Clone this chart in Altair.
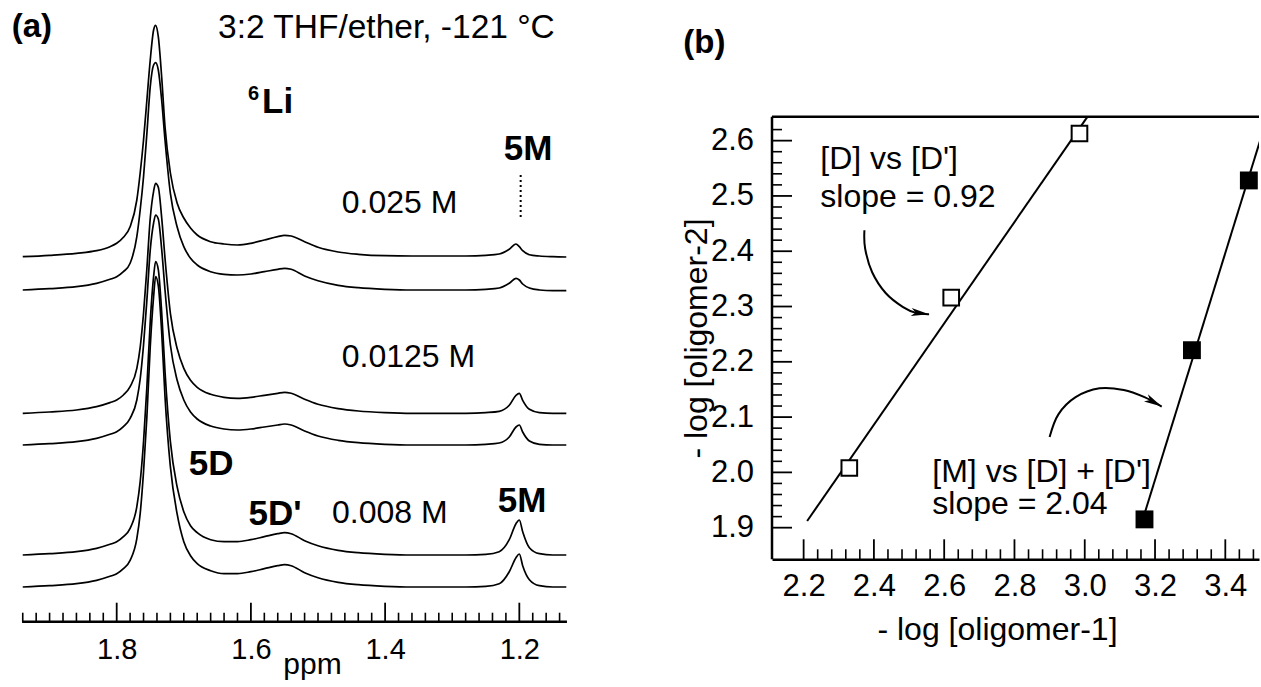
import altair as alt
import pandas as pd

FONT = "Liberation Sans"

# ---------------- panel (a): 6Li NMR spectra ----------------
ppm = [1.94, 1.90, 1.86, 1.83, 1.81, 1.80, 1.79, 1.78, 1.77, 1.765,
       1.76, 1.755, 1.75, 1.745, 1.742, 1.738, 1.733, 1.728, 1.72, 1.71,
       1.70, 1.69, 1.68, 1.66, 1.64, 1.62, 1.60, 1.58, 1.56, 1.55,
       1.54, 1.52, 1.50, 1.47, 1.44, 1.40, 1.36, 1.32, 1.28, 1.25,
       1.23, 1.215, 1.205, 1.20, 1.195, 1.185, 1.17, 1.15, 1.13]

trace_025_1 = [365.0, 366.4, 368.4, 371.0, 375.0, 378.4, 384.4, 395.0, 421.7, 448.7,
               481.7, 521.7, 561.7, 591.7, 596.4, 585.0, 545.0, 495.0, 448.7, 418.7,
               403.7, 393.7, 386.7, 380.0, 377.7, 376.7, 378.4, 381.7, 385.0, 386.4,
               385.7, 380.0, 374.4, 369.7, 367.4, 366.0, 365.7, 365.7, 365.7, 366.4,
               367.7, 372.4, 377.7, 375.0, 371.0, 367.0, 365.7, 365.0, 364.7]
trace_025_2 = [331.7, 333.0, 335.0, 338.4, 342.4, 345.0, 350.0, 358.4, 385.0, 411.7,
               445.0, 488.4, 535.0, 556.7, 559.0, 551.7, 521.7, 481.7, 428.4, 395.0,
               375.0, 363.4, 356.7, 350.0, 347.4, 346.7, 347.7, 350.0, 352.4, 353.4,
               352.4, 345.7, 341.0, 336.4, 334.0, 332.4, 331.7, 331.7, 331.7, 332.4,
               333.7, 338.4, 343.4, 341.7, 337.7, 333.7, 331.7, 331.0, 331.0]
trace_0125_1 = [208.4, 209.7, 211.7, 215.1, 219.1, 221.7, 226.7, 235.1, 253.4, 274.4,
                308.4, 353.4, 403.4, 430.4, 438.4, 434.4, 404.4, 363.4, 308.4, 273.4,
                253.4, 241.4, 234.4, 227.4, 224.4, 223.4, 224.4, 226.4, 228.4, 229.4,
                228.4, 222.4, 217.4, 213.1, 210.7, 209.1, 208.4, 208.4, 208.4, 209.1,
                210.4, 216.4, 226.4, 228.4, 221.4, 212.4, 209.1, 208.4, 208.4]
trace_0125_2 = [176.7, 178.0, 180.0, 183.4, 187.4, 190.0, 195.0, 203.4, 221.7, 242.7,
                276.7, 321.7, 371.7, 398.7, 406.7, 402.7, 372.7, 331.7, 276.7, 241.7,
                221.7, 209.7, 202.7, 195.7, 192.7, 191.7, 192.7, 194.7, 196.7, 197.7,
                196.7, 190.7, 185.7, 181.4, 179.0, 177.4, 176.7, 176.7, 176.7, 177.4,
                178.7, 184.7, 194.7, 196.7, 189.7, 180.7, 177.4, 176.7, 176.7]
trace_008_1 = [66.7, 68.0, 70.0, 73.4, 77.4, 80.0, 85.0, 93.4, 115.0, 140.0,
               180.0, 235.0, 300.0, 345.0, 360.0, 352.0, 310.0, 250.0, 180.0, 135.0,
               110.0, 96.0, 89.0, 82.0, 80.0, 80.0, 82.0, 85.0, 88.0, 89.0,
               88.0, 81.0, 76.0, 71.4, 69.0, 67.4, 66.7, 66.7, 66.7, 67.4,
               70.0, 82.0, 98.0, 101.7, 90.0, 74.0, 68.0, 66.7, 66.7]
trace_008_2 = [34.7, 36.0, 38.0, 41.4, 45.4, 48.0, 53.0, 61.4, 83.0, 108.0,
               150.0, 205.0, 275.0, 325.0, 345.0, 336.0, 290.0, 225.0, 155.0, 108.0,
               80.0, 66.0, 58.0, 51.0, 48.0, 48.0, 50.0, 53.0, 56.0, 57.0,
               56.0, 49.0, 44.0, 39.4, 37.0, 35.4, 34.7, 34.7, 34.7, 35.4,
               38.0, 50.0, 64.0, 67.7, 56.0, 42.0, 36.0, 34.7, 34.7]

trace_names = ["0.025 M a", "0.025 M b", "0.0125 M a", "0.0125 M b", "0.008 M a", "0.008 M b"]
trace_values = [trace_025_1, trace_025_2, trace_0125_1, trace_0125_2, trace_008_1, trace_008_2]

a_major_ticks = [1.8, 1.6, 1.4, 1.2]
a_minor_ticks = [round(1.94 - 0.02 * i, 2) for i in range(41)]
a_minor_ticks = [t for t in a_minor_ticks if t not in a_major_ticks]

# ---------------- panel (b): log-log plot ----------------
d_x = [2.330, 2.620, 2.985]
d_y = [2.008, 2.316, 2.613]
m_x = [3.170, 3.305, 3.467]
m_y = [1.915, 2.221, 2.528]
fit_d_x = [2.210, 3.008]
fit_d_y = [1.912, 2.6434]
fit_m_x = [3.170, 3.520]
fit_m_y = [1.925, 2.643]

b_x_major = [2.2, 2.4, 2.6, 2.8, 3.0, 3.2, 3.4]
b_x_minor = [round(2.2 + 0.04 * i, 2) for i in range(33)]
b_x_minor = [t for t in b_x_minor if t not in b_x_major]
b_y_major = [1.9, 2.0, 2.1, 2.2, 2.3, 2.4, 2.5, 2.6]
b_y_minor = [round(1.9 + 0.02 * i, 2) for i in range(37)]
b_y_minor = [t for t in b_y_minor if t not in b_y_major]

arrow1_x = [2.373, 2.375, 2.395, 2.434, 2.483, 2.522, 2.557]
arrow1_y = [2.438, 2.405, 2.362, 2.324, 2.299, 2.288, 2.286]
arrow2_x = [2.900, 2.925, 2.974, 3.042, 3.111, 3.170, 3.219]
arrow2_y = [2.064, 2.105, 2.136, 2.152, 2.149, 2.136, 2.119]

# ---------------- tables ----------------
spec_df = pd.DataFrame(
    [{"trace": n, "ppm": p, "intensity": v}
     for n, vals in zip(trace_names, trace_values)
     for p, v in zip(ppm, vals)]
)

A_W, A_H = 566.7, 621.7
B_W, B_H = 487.0, 559.3
A_XDOM = [1.1294, 1.9739]
A_YDOM = [0, 621.7]
B_XDOM = [2.110, 2.110 + B_W / 351.4]
B_YDOM = [1.8428, 1.8428 + B_H / 552.9]

axis_a = alt.Axis(values=a_major_ticks, format=".1f", ticks=False, tickSize=0, domain=False,
                  grid=False, labelFontSize=29, labelPadding=36.6, labelBaseline="alphabetic",
                  labelFlush=False, labelOverlap=False, labelFont=FONT, labelColor="black",
                  title="ppm", titleFontSize=30, titleFontWeight="normal", titleX=312, titleY=51.5,
                  titleBaseline="alphabetic", titleAlign="center", titleFont=FONT,
                  titleColor="black")


def ax(field="ppm"):
    return alt.X(f"{field}:Q", scale=alt.Scale(domain=A_XDOM, reverse=True, nice=False, zero=False),
                 axis=axis_a)


def ay(field="intensity"):
    return alt.Y(f"{field}:Q", scale=alt.Scale(domain=A_YDOM, nice=False, zero=False), axis=None)


spectra = alt.Chart(spec_df).mark_line(color="black", strokeWidth=1.7, interpolate="monotone").encode(
    x=ax(), y=ay(), detail="trace:N")

a_axis_line = alt.Chart(pd.DataFrame({"ppm": [1.941], "ppm2": [1.129], "intensity": [0.0]})).mark_rule(
    color="black", strokeWidth=2.5).encode(x=ax(), x2="ppm2:Q", y=ay())
a_major = alt.Chart(pd.DataFrame({"ppm": a_major_ticks})).mark_rule(color="black", strokeWidth=1.8).encode(
    x=ax(), y=alt.value(A_H), y2=alt.value(A_H - 19))
a_minor = alt.Chart(pd.DataFrame({"ppm": a_minor_ticks})).mark_rule(color="black", strokeWidth=1.6).encode(
    x=ax(), y=alt.value(A_H), y2=alt.value(A_H - 9))
dotted = alt.Chart(pd.DataFrame({"ppm": [1.198], "intensity": [404.7], "i2": [448.7]})).mark_rule(
    color="black", strokeWidth=2, strokeDash=[2, 3]).encode(x=ax(), y=ay(), y2="i2:Q")

a_txt_normal = pd.DataFrame({
    "text": ["0.025 M", "0.0125 M", "0.008 M"],
    "ppm": [1.4647, 1.4647, 1.4791],
    "intensity": [408.7, 255.0, 98.7],
})
a_txt_bold_c = pd.DataFrame({
    "text": ["5M", "5D", "5D'", "5M"],
    "ppm": [1.1870, 1.6594, 1.5641, 1.1960],
    "intensity": [461.7, 146.7, 96.7, 109.7],
})
t_normal = alt.Chart(a_txt_normal).mark_text(font=FONT, fontSize=32, align="left", baseline="alphabetic",
                                             color="black").encode(x=ax(), y=ay(), text="text:N")
t_cond = alt.Chart(pd.DataFrame({"text": ["3:2 THF/ether, -121 °C"], "ppm": [1.649],
                                 "intensity": [583.7]})).mark_text(
    font=FONT, fontSize=33.5, align="left", baseline="alphabetic", color="black").encode(
    x=ax(), y=ay(), text="text:N")
t_bold = alt.Chart(a_txt_bold_c).mark_text(font=FONT, fontSize=35, fontWeight="bold", align="center",
                                           baseline="alphabetic", color="black").encode(
    x=ax(), y=ay(), text="text:N")
t_li = alt.Chart(pd.DataFrame({"text": ["Li"], "ppm": [1.5834], "intensity": [508.7]})).mark_text(
    font=FONT, fontSize=35, fontWeight="bold", align="left", baseline="alphabetic", color="black").encode(
    x=ax(), y=ay(), text="text:N")
t_six = alt.Chart(pd.DataFrame({"text": ["6"], "ppm": [1.6043], "intensity": [521.7]})).mark_text(
    font=FONT, fontSize=20, fontWeight="bold", align="left", baseline="alphabetic", color="black").encode(
    x=ax(), y=ay(), text="text:N")
t_a = alt.Chart(pd.DataFrame({"text": ["(a)"], "ppm": [1.9565], "intensity": [585.0]})).mark_text(
    font=FONT, fontSize=33, fontWeight="bold", align="left", baseline="alphabetic", color="black").encode(
    x=ax(), y=ay(), text="text:N")

panel_a = alt.layer(spectra, a_axis_line, a_major, a_minor, dotted, t_normal, t_cond, t_bold, t_li,
                    t_six, t_a).properties(width=A_W, height=A_H)

# ---------------- panel (b) ----------------
axis_bx = alt.Axis(values=b_x_major, format=".1f", ticks=False, tickSize=0, domain=True,
                   domainColor="black", domainWidth=2.5, grid=False, labelFontSize=31,
                   labelPadding=35.7, labelBaseline="alphabetic", labelFlush=False, labelOverlap=False,
                   labelFont=FONT, labelColor="black", title="- log [oligomer-1]", titleFontSize=32,
                   titleFontWeight="normal", titleX=225, titleY=80, titleBaseline="alphabetic",
                   titleAlign="center", titleFont=FONT, titleColor="black")
axis_by = alt.Axis(values=b_y_major, format=".1f", ticks=False, tickSize=0, domain=False, grid=False,
                   labelFontSize=31, labelPadding=18.4, labelBaseline="middle", labelFlush=False,
                   labelOverlap=False, labelFont=FONT, labelColor="black",
                   title="- log [oligomer-2]", titleFontSize=32, titleFontWeight="normal",
                   titleX=-65.7, titleY=338, titleAngle=270, titleBaseline="alphabetic",
                   titleAlign="center", titleFont=FONT, titleColor="black")


def bx(field="x"):
    return alt.X(f"{field}:Q", scale=alt.Scale(domain=B_XDOM, nice=False, zero=False), axis=axis_bx)


def by(field="y"):
    return alt.Y(f"{field}:Q", scale=alt.Scale(domain=B_YDOM, nice=False, zero=False), axis=axis_by)


FRAME_TOP = 2.6434
frame_top = alt.Chart(pd.DataFrame({"x": [B_XDOM[0]], "x2": [B_XDOM[1]], "y": [FRAME_TOP]})).mark_rule(
    color="black", strokeWidth=2.5).encode(x=bx(), x2="x2:Q", y=by())
frame_left = alt.Chart(pd.DataFrame({"x": [B_XDOM[0]], "y": [B_YDOM[0]], "y2": [FRAME_TOP]})).mark_rule(
    color="black", strokeWidth=2.5).encode(x=bx(), y=by(), y2="y2:Q")

bx_major = alt.Chart(pd.DataFrame({"x": b_x_major})).mark_rule(color="black", strokeWidth=1.8).encode(
    x=bx(), y=alt.value(B_H), y2=alt.value(B_H - 20))
bx_minor = alt.Chart(pd.DataFrame({"x": b_x_minor})).mark_rule(color="black", strokeWidth=1.6).encode(
    x=bx(), y=alt.value(B_H), y2=alt.value(B_H - 10))
by_major = alt.Chart(pd.DataFrame({"y": b_y_major})).mark_rule(color="black", strokeWidth=1.8).encode(
    y=by(), x=alt.value(0), x2=alt.value(20))
by_minor = alt.Chart(pd.DataFrame({"y": b_y_minor})).mark_rule(color="black", strokeWidth=1.6).encode(
    y=by(), x=alt.value(0), x2=alt.value(10))

fits_df = pd.DataFrame({
    "series": ["D", "D", "M", "M"],
    "x": fit_d_x + fit_m_x,
    "y": fit_d_y + fit_m_y,
})
fits = alt.Chart(fits_df).mark_line(color="black", strokeWidth=2, clip=True).encode(
    x=bx(), y=by(), detail="series:N")

open_sq = alt.Chart(pd.DataFrame({"x": d_x, "y": d_y})).mark_point(
    shape="square", filled=True, fill="white", stroke="black", strokeWidth=2, size=245, opacity=1).encode(
    x=bx(), y=by())
filled_sq = alt.Chart(pd.DataFrame({"x": m_x, "y": m_y})).mark_point(
    shape="square", filled=True, color="black", size=320, opacity=1).encode(x=bx(), y=by())

arrows_df = pd.DataFrame({
    "arrow": ["a1"] * len(arrow1_x) + ["a2"] * len(arrow2_x),
    "i": list(range(len(arrow1_x))) + list(range(len(arrow2_x))),
    "x": arrow1_x + arrow2_x,
    "y": arrow1_y + arrow2_y,
})
arrows = alt.Chart(arrows_df).mark_line(color="black", strokeWidth=2, interpolate="cardinal").encode(
    x=bx(), y=by(), detail="arrow:N", order="i:Q")
heads_df = pd.DataFrame({"x": [arrow1_x[-1], arrow2_x[-1]], "y": [arrow1_y[-1], arrow2_y[-1]],
                         "angle": [7, 29]})
heads = alt.Chart(heads_df).mark_point(shape="M0,0L-2,-0.45L-1.5,0L-2,0.45Z", filled=True, color="black",
                                       size=324, opacity=1).encode(
    x=bx(), y=by(), angle=alt.Angle("angle:Q", scale=None))

b_txt = pd.DataFrame({
    "text": ["[D] vs [D']", "slope = 0.92", "[M] vs [D] + [D']", "slope = 2.04"],
    "x": [2.2475, 2.2475, 2.5662, 2.5662],
    "y": [2.5488, 2.4800, 1.9833, 1.9239],
})
b_text = alt.Chart(b_txt).mark_text(font=FONT, fontSize=32, align="left", baseline="alphabetic",
                                    color="black").encode(x=bx(), y=by(), text="text:N")
t_b = alt.Chart(pd.DataFrame({"text": ["(b)"], "x": [1.8576], "y": [2.7586]})).mark_text(
    font=FONT, fontSize=33, fontWeight="bold", align="left", baseline="alphabetic", color="black").encode(
    x=bx(), y=by(), text="text:N")

panel_b = alt.layer(frame_top, frame_left, bx_major, bx_minor, by_major, by_minor, fits, arrows, heads,
                    open_sq, filled_sq, b_text, t_b).properties(width=B_W, height=B_H)

chart = alt.hconcat(panel_a, panel_b, spacing=205, bounds="flush").properties(
    padding=0, background="white").configure_view(stroke=None)

chart.save("out.html", embed_options={"renderer": "svg", "actions": False})
